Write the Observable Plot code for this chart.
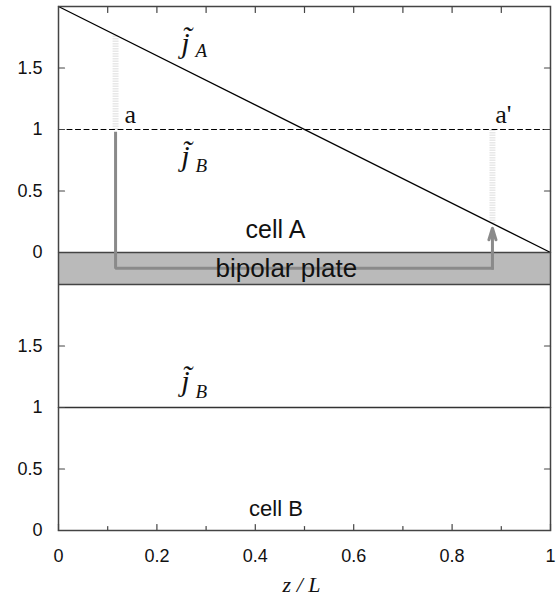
<!DOCTYPE html>
<html>
<head>
<meta charset="utf-8">
<script src="https://cdn.jsdelivr.net/npm/d3@7"></script>
<script src="https://cdn.jsdelivr.net/npm/@observablehq/plot@0.6"></script>
<style>
  html, body { margin: 0; padding: 0; background: #fff; }
</style>
</head>
<body>
<div id="chart"></div>
<script>
// ---- data ----
const z = [0, 1];                 // z / L
const jA = [2, 0];                // top panel, cell A current density
const jBref = [1, 1];             // top panel, dashed reference (cell B)
const jB = [1, 1];                // bottom panel, cell B
const xTicks = [0, 0.2, 0.4, 0.6, 0.8, 1];
const xMinorTicks = [0.1, 0.3, 0.5, 0.7, 0.9];
const xTopTicks = [0.1, 0.2, 0.3, 0.4, 0.5, 0.6, 0.7, 0.8, 0.9];
const yTicks = [0, 0.5, 1, 1.5];
const plate = [-0.26, 0];         // bipolar plate band (top-panel units)
const pathZ = [0.116, 0.116, 0.882];
const pathJ = [0.97, -0.127, -0.127];
const arrowZ = [0.882, 0.882];
const arrowJ = [-0.127, 0.197];
const faintZ = [0.116, 0.882];
const faintFrom = [1, 1];
const faintTo = [1.77, 0.24];

const OFF = 2.26; // vertical offset of top panel on the shared y scale

const sans = "'Liberation Sans', Arial, Helvetica, sans-serif";
const serif = "'Liberation Serif', 'Times New Roman', serif";
const ink = "#111";
const frameColor = "#444";

const tickShape = { draw(ctx, l) { ctx.moveTo(0, 0); ctx.lineTo(0, -l); } };
const allY = [...yTicks, ...yTicks.map(d => d + OFF)];
const fmtY = d => String(+(d >= OFF - 1e-9 ? d - OFF : d).toFixed(2));

const idx2 = [0, 1];
const idx3 = [0, 1, 2];

const jOpts = { text: d => d, fontFamily: serif, fontStyle: "italic", fontSize: 30, lineAnchor: "bottom", fill: ink };
const subOpts = { text: d => d, fontFamily: serif, fontStyle: "italic", fontSize: 19, lineAnchor: "bottom", fill: ink };

const chart = Plot.plot({
  width: 558,
  height: 598,
  marginLeft: 58,
  marginRight: 8,
  marginTop: 6,
  marginBottom: 68,
  x: { domain: [0, 1], axis: null },
  y: { domain: [0, OFF + 2], axis: null },
  style: { fontFamily: sans, fontSize: "18px", background: "#fff", color: ink },
  marks: [
    // bipolar plate
    Plot.rect([0], { x1: 0, x2: 1, y1: OFF + plate[0], y2: OFF + plate[1], fill: "#bababa" }),
    Plot.ruleY([OFF + plate[0], OFF + plate[1]], { stroke: frameColor, strokeWidth: 1.5 }),
    // faint stippled guides
    Plot.link(idx2, {
      x1: i => faintZ[i], x2: i => faintZ[i],
      y1: i => OFF + faintFrom[i], y2: i => OFF + faintTo[i],
      stroke: "#e8e8e8", strokeWidth: 6, strokeDasharray: "1.5,1"
    }),
    // dashed reference line in top panel
    Plot.line(idx2, { x: i => z[i], y: i => OFF + jBref[i], stroke: "#000", strokeWidth: 1.1, strokeDasharray: "5,3.5" }),
    // j_A line
    Plot.line(idx2, { x: i => z[i], y: i => OFF + jA[i], stroke: "#000", strokeWidth: 1.3 }),
    // bottom panel j_B
    Plot.line(idx2, { x: i => z[i], y: i => jB[i], stroke: "#333", strokeWidth: 1.5 }),
    // grey transfer arrow
    Plot.line(idx3, {
      x: i => pathZ[i], y: i => OFF + pathJ[i],
      stroke: "#8a8a8a", strokeWidth: 3, strokeLinecap: "square", strokeLinejoin: "miter"
    }),
    Plot.arrow([0], {
      x1: arrowZ[0], y1: OFF + arrowJ[0], x2: arrowZ[1], y2: OFF + arrowJ[1],
      stroke: "#8a8a8a", strokeWidth: 3, headAngle: 34, headLength: 6
    }),
    // annotations
    Plot.text(["j\u0303"], { x: 0.258, y: OFF + 1.626, ...jOpts }),
    Plot.text(["A"], { x: 0.29, y: OFF + 1.586, ...subOpts }),
    Plot.text(["j\u0303"], { x: 0.258, y: OFF + 0.707, ...jOpts }),
    Plot.text(["B"], { x: 0.29, y: OFF + 0.651, ...subOpts }),
    Plot.text(["j\u0303"], { x: 0.258, y: 1.138, ...jOpts }),
    Plot.text(["B"], { x: 0.29, y: 1.081, ...subOpts }),
    Plot.text(["a"], { x: 0.146, y: OFF + 1.051, text: d => d, fontFamily: serif, fontSize: 26, lineAnchor: "bottom", fill: ink }),
    Plot.text(["a'"], { x: 0.904, y: OFF + 1.053, text: d => d, fontFamily: serif, fontSize: 26, lineAnchor: "bottom", fill: ink }),
    Plot.text(["cell A"], { x: 0.441, y: OFF + 0.116, text: d => d, fontSize: 25, lineAnchor: "bottom", fill: ink }),
    Plot.text(["bipolar plate"], { x: 0.463, y: OFF - 0.201, text: d => d, fontSize: 26, lineAnchor: "bottom", fill: ink }),
    Plot.text(["cell B"], { x: 0.442, y: 0.114, text: d => d, fontSize: 22, lineAnchor: "bottom", fill: ink }),
    Plot.text(["z / L"], { x: 0.494, frameAnchor: "bottom", dy: 61, text: d => d, fontFamily: serif, fontStyle: "italic", fontSize: 22, lineAnchor: "bottom", fill: ink }),
    // frame
    Plot.frame({ stroke: frameColor, strokeWidth: 1.5 }),
    // inward ticks
    Plot.vector(allY, { y: d => d, frameAnchor: "left", rotate: 90, length: 6, anchor: "start", shape: tickShape, stroke: frameColor, strokeWidth: 1.2 }),
    Plot.vector(allY, { y: d => d, frameAnchor: "right", rotate: -90, length: 6, anchor: "start", shape: tickShape, stroke: frameColor, strokeWidth: 1.2 }),
    Plot.vector(xTicks, { x: d => d, frameAnchor: "bottom", rotate: 0, length: 6, anchor: "start", shape: tickShape, stroke: frameColor, strokeWidth: 1.2 }),
    Plot.vector(xMinorTicks, { x: d => d, frameAnchor: "bottom", rotate: 0, length: 4, anchor: "start", shape: tickShape, stroke: frameColor, strokeWidth: 1.2 }),
    Plot.vector(xTopTicks, { x: d => d, frameAnchor: "top", rotate: 180, length: 6, anchor: "start", shape: tickShape, stroke: frameColor, strokeWidth: 1.2 }),
    // tick labels
    Plot.text(allY, { y: d => d, frameAnchor: "left", dx: -16, textAnchor: "end", text: fmtY, fontSize: 18, fill: ink }),
    Plot.text(xTicks, { x: d => d, frameAnchor: "bottom", dy: 19, lineAnchor: "top", text: d => String(d), fontSize: 18, fill: ink })
  ]
});
document.getElementById("chart").appendChild(chart);
</script>
</body>
</html>
